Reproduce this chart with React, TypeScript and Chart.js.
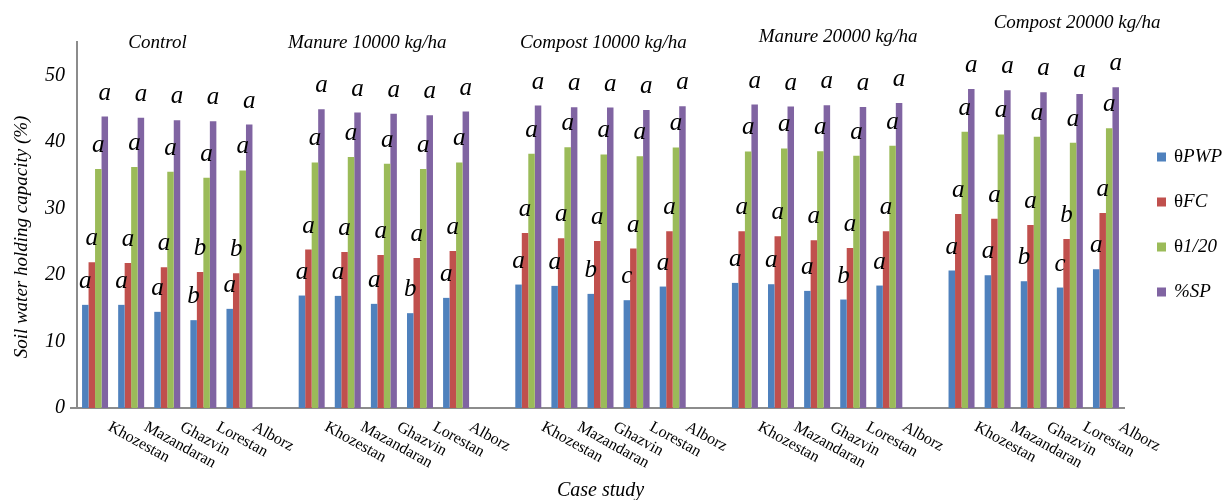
import React, { useEffect, useRef } from "react";
import { Chart, registerables } from "chart.js";

Chart.register(...registerables);

// ---------- data ----------
const groups = [
  "Control",
  "Manure 10000 kg/ha",
  "Compost 10000 kg/ha",
  "Manure 20000 kg/ha",
  "Compost 20000 kg/ha",
];
const provinces = ["Khozestan", "Mazandaran", "Ghazvin", "Lorestan", "Alborz"];
const seriesNames = ["θPWP", "θFC", "θ1/20", "%SP"];

const pwp = [
  15.5, 15.5, 14.45, 13.2, 14.9,
  16.9, 16.85, 15.65, 14.25, 16.55,
  18.55, 18.35, 17.15, 16.2, 18.25,
  18.8, 18.6, 17.6, 16.3, 18.4,
  20.65, 19.95, 19.05, 18.1, 20.85,
];
const fc = [
  21.9, 21.8, 21.15, 20.45, 20.25,
  23.8, 23.45, 23.0, 22.55, 23.6,
  26.3, 25.5, 25.1, 23.95, 26.55,
  26.55, 25.8, 25.2, 24.05, 26.55,
  29.15, 28.45, 27.5, 25.4, 29.3,
];
const t120 = [
  35.9, 36.2, 35.5, 34.6, 35.7,
  36.9, 37.7, 36.7, 35.9, 36.9,
  38.2, 39.2, 38.1, 37.85, 39.15,
  38.55, 39.0, 38.6, 37.9, 39.4,
  41.5, 41.1, 40.75, 39.85, 42.05,
];
const sp = [
  43.8, 43.6, 43.25, 43.1, 42.6,
  44.9, 44.4, 44.2, 44.0, 44.55,
  45.45, 45.2, 45.15, 44.8, 45.35,
  45.6, 45.3, 45.5, 45.25, 45.85,
  47.95, 47.75, 47.45, 47.2, 48.2,
];

const pwpLetters = [
  "a", "a", "a", "b", "a",
  "a", "a", "a", "b", "a",
  "a", "a", "b", "c", "a",
  "a", "a", "a", "b", "a",
  "a", "a", "b", "c", "a",
];
const fcLetters = [
  "a", "a", "a", "b", "b",
  "a", "a", "a", "a", "a",
  "a", "a", "a", "a", "a",
  "a", "a", "a", "a", "a",
  "a", "a", "a", "b", "a",
];
const t120Letters = Array(25).fill("a");
const spLetters = Array(25).fill("a");

const yTicks = [0, 10, 20, 30, 40, 50];

// group title anchors: [category index, value]
const groupTitleAnchors: [number, number][] = [
  [1.73, 54.8],
  [7.54, 54.9],
  [14.08, 54.9],
  [20.58, 55.8],
  [27.2, 57.9],
];

// ---------- styles ----------
const colors = ["#4F81BD", "#C0504D", "#9BBB59", "#8064A2"];
const SERIF = '"Liberation Serif", "Times New Roman", serif';

// build category axis with a blank slot between groups
function buildCategory() {
  const labels: string[] = [];
  const idx: number[] = [];
  groups.forEach((_, g) => {
    if (g > 0) {
      labels.push("");
      idx.push(-1);
    }
    provinces.forEach((p, k) => {
      labels.push(p);
      idx.push(g * provinces.length + k);
    });
  });
  return { labels, idx };
}

export default function App() {
  const ref = useRef<HTMLCanvasElement | null>(null);

  useEffect(() => {
    if (!ref.current) return;
    const { labels, idx } = buildCategory();
    const seriesValues = [pwp, fc, t120, sp];
    const seriesLetters = [pwpLetters, fcLetters, t120Letters, spLetters];
    const spread = (arr: any[]) => idx.map((i) => (i < 0 ? null : arr[i]));

    const overlay = {
      id: "overlay",
      afterDatasetsDraw(chart: any) {
        const ctx = chart.ctx;
        const area = chart.chartArea;
        const xs = chart.scales.x;
        const ys = chart.scales.y;
        ctx.save();
        ctx.fillStyle = "#000";

        // small extension of x axis line to the left of the y axis
        ctx.strokeStyle = "#8c8c8c";
        ctx.lineWidth = 2;
        ctx.beginPath();
        ctx.moveTo(area.left - 7, area.bottom);
        ctx.lineTo(area.left, area.bottom);
        ctx.stroke();

        // significance letters
        ctx.font = `italic 25px ${SERIF}`;
        ctx.textAlign = "center";
        ctx.textBaseline = "alphabetic";
        for (let d = 0; d < 4; d++) {
          const meta = chart.getDatasetMeta(d);
          const lets = spread(seriesLetters[d]);
          meta.data.forEach((bar: any, j: number) => {
            if (lets[j] == null) return;
            ctx.fillText(lets[j], bar.x, bar.y - 17);
          });
        }

        // rotated category labels
        ctx.font = `16px ${SERIF}`;
        ctx.textAlign = "left";
        ctx.textBaseline = "top";
        labels.forEach((lab, i) => {
          if (!lab) return;
          const px = xs.getPixelForValue(i);
          ctx.save();
          ctx.translate(px + 18, area.bottom + 11);
          ctx.rotate((29 * Math.PI) / 180);
          ctx.fillText(lab, 0, 0);
          ctx.restore();
        });

        // group titles
        ctx.font = `italic 19px ${SERIF}`;
        ctx.textAlign = "center";
        ctx.textBaseline = "middle";
        groups.forEach((g, i) => {
          const [ci, v] = groupTitleAnchors[i];
          const x0 = xs.getPixelForValue(0);
          const step = xs.getPixelForValue(1) - x0;
          ctx.fillText(g, x0 + ci * step, ys.getPixelForValue(v));
        });

        // axis titles
        ctx.font = `italic 20px ${SERIF}`;
        ctx.fillText("Case study", (area.left + area.right) / 2, 491);
        ctx.save();
        ctx.translate(22, 237);
        ctx.rotate(-Math.PI / 2);
        ctx.font = `italic 19px ${SERIF}`;
        ctx.fillText("Soil water holding capacity (%)", 0, 0);
        ctx.restore();

        // legend
        ctx.textAlign = "left";
        ctx.textBaseline = "middle";
        seriesNames.forEach((name, i) => {
          const cy = 157 + i * 45;
          const sx = area.right + 33;
          ctx.fillStyle = colors[i];
          ctx.fillRect(sx, cy - 4.5, 9, 9);
          ctx.fillStyle = "#000";
          let tx = sx + 17;
          let rest = name;
          if (name.startsWith("θ")) {
            ctx.font = `19px ${SERIF}`;
            ctx.fillText("θ", tx, cy);
            tx += ctx.measureText("θ").width;
            rest = name.slice(1);
          }
          ctx.font = `italic 19px ${SERIF}`;
          ctx.fillText(rest, tx, cy);
        });

        ctx.restore();
      },
    };

    const chart = new Chart(ref.current, {
      type: "bar",
      data: {
        labels,
        datasets: seriesNames.map((n, d) => ({
          label: n,
          data: spread(seriesValues[d]),
          backgroundColor: colors[d],
          borderWidth: 0,
          categoryPercentage: 0.72,
          barPercentage: 1.0,
        })),
      },
      options: {
        responsive: false,
        animation: false,
        layout: { padding: { top: 42, right: 106, left: 0, bottom: 0 } },
        plugins: { legend: { display: false }, tooltip: { enabled: false } },
        scales: {
          x: {
            grid: { display: false, drawTicks: false },
            border: { display: true, color: "#8c8c8c", width: 2 },
            ticks: { display: false },
            afterFit: (s: any) => {
              s.height = 92;
            },
          },
          y: {
            min: 0,
            max: 55,
            grid: { display: false, drawTicks: false },
            border: { display: true, color: "#8c8c8c", width: 2 },
            ticks: {
              stepSize: 10,
              padding: 12,
              color: "#000",
              font: { family: SERIF, size: 20, style: "italic" },
            },
            afterBuildTicks: (s: any) => {
              s.ticks = yTicks.map((v) => ({ value: v }));
            },
            afterFit: (s: any) => {
              s.width = 77;
            },
          },
        },
      },
      plugins: [overlay],
    });
    return () => chart.destroy();
  }, []);

  return (
    <div style={{ position: "fixed", left: 0, top: 0, width: 1230, height: 500, background: "#fff" }}>
      <canvas ref={ref} width={1230} height={500} style={{ display: "block" }} />
    </div>
  );
}
